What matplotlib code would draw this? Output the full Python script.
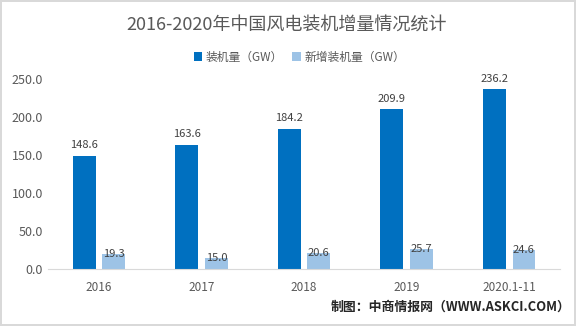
import numpy as np
import matplotlib
matplotlib.use("Agg")
import matplotlib.pyplot as plt

plt.rcParams['font.family'] = ['Noto Sans CJK SC', 'DejaVu Sans']

years = ['2016', '2017', '2018', '2019', '2020.1-11']
installed = [148.6, 163.6, 184.2, 209.9, 236.2]
new_installed = [19.3, 15.0, 20.6, 25.7, 24.6]
yticks = [0, 50, 100, 150, 200, 250]

dark = '#0070C0'
light = '#9DC3E6'
grey = '#595959'

fig = plt.figure(figsize=(5.76, 3.26), dpi=100)
fig.patch.set_edgecolor('#D9D9D9')
fig.patch.set_linewidth(1.5)
ax = fig.add_axes([0.083, 0.175, 0.89, 0.583])

x = np.arange(len(years))
w = 0.223
off = 0.144
b1 = ax.bar(x - off, installed, w, color=dark, label='装机量（GW）')
b2 = ax.bar(x + off, new_installed, w, color=light, label='新增装机量（GW）')

for xi, v in zip(x, installed):
    ax.annotate(f'{v:.1f}', (xi - off, v), xytext=(0, 4), textcoords='offset points',
                ha='center', va='bottom', fontsize=8, color='#404040')
for xi, v in zip(x, new_installed):
    ax.annotate(f'{v:.1f}', (xi + off, v), xytext=(0, 0), textcoords='offset points',
                ha='center', va='center', fontsize=8, color='#404040')

ax.set_xlim(-0.5, len(years) - 0.5)
ax.set_ylim(0, 250)
ax.set_yticks(yticks)
ax.set_yticklabels([f'{t:.1f}' for t in yticks], fontsize=9, color=grey)
ax.set_xticks(x)
ax.set_xticklabels(years, fontsize=8.5, color=grey)
ax.tick_params(axis='both', length=0)
ax.tick_params(axis='x', pad=9)
for s in ['top', 'right', 'left']:
    ax.spines[s].set_visible(False)
ax.spines['bottom'].set_color('#D9D9D9')

fig.text(0.497, 0.925, '2016-2020年中国风电装机增量情况统计', ha='center', va='center',
         fontsize=13, color=grey)
fig.legend(handles=[b1, b2], loc='center', bbox_to_anchor=(0.52, 0.825), ncol=2,
           frameon=False, fontsize=8.5, handlelength=0.7, handleheight=0.7,
           handletextpad=0.3, columnspacing=0.8, labelcolor=grey)
fig.text(0.99, 0.06, '制图：中商情报网（WWW.ASKCI.COM）', ha='right', va='center',
         fontsize=9.3, color='#262626', fontweight='bold')

fig.savefig('out.png', dpi=100)
